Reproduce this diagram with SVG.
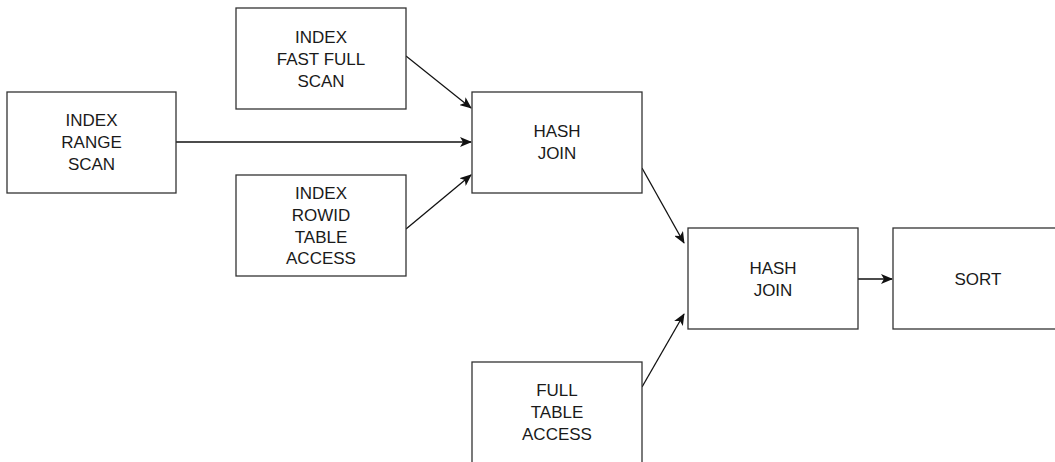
<svg xmlns="http://www.w3.org/2000/svg" width="1055" height="462" viewBox="0 0 1055 462">
  <style>
    .box { fill: #ffffff; stroke: #333333; stroke-width: 1.3; }
    .lbl { font-family: "Liberation Sans", Arial, sans-serif; font-size: 17px; fill: #1a1a1a; text-anchor: middle; }
    .edge { fill: none; stroke: #111111; stroke-width: 1.3; marker-end: url(#arrow); }
  </style>
  <defs>
    <marker id="arrow" viewBox="0 0 12 10" refX="11" refY="5" markerWidth="12" markerHeight="10" markerUnits="userSpaceOnUse" orient="auto">
      <path d="M0,0 L12,5 L0,10 L3,5 Z" fill="#111111"/>
    </marker>
  </defs>
  <rect width="1055" height="462" fill="#ffffff"/>

  <g id="connectors">
    <line class="edge" x1="406" y1="56" x2="471" y2="108"/>
    <line class="edge" x1="176" y1="142" x2="471" y2="142"/>
    <line class="edge" x1="406" y1="229" x2="471" y2="175"/>
    <line class="edge" x1="642" y1="168" x2="684" y2="243"/>
    <line class="edge" x1="642" y1="387" x2="684" y2="314"/>
    <line class="edge" x1="858" y1="279" x2="892" y2="279"/>
  </g>

  <g id="index-range-scan">
    <rect class="box" x="7" y="92" width="169" height="101"/>
    <text class="lbl" x="91.5" y="126">INDEX</text>
    <text class="lbl" x="91.5" y="148">RANGE</text>
    <text class="lbl" x="91.5" y="170">SCAN</text>
  </g>

  <g id="index-fast-full-scan">
    <rect class="box" x="236" y="8" width="170" height="101"/>
    <text class="lbl" x="321" y="43">INDEX</text>
    <text class="lbl" x="321" y="65">FAST FULL</text>
    <text class="lbl" x="321" y="87">SCAN</text>
  </g>

  <g id="index-rowid-table-access">
    <rect class="box" x="236" y="175" width="170" height="101"/>
    <text class="lbl" x="321" y="199">INDEX</text>
    <text class="lbl" x="321" y="221">ROWID</text>
    <text class="lbl" x="321" y="243">TABLE</text>
    <text class="lbl" x="321" y="264">ACCESS</text>
  </g>

  <g id="hash-join-1">
    <rect class="box" x="472" y="92" width="170" height="101"/>
    <text class="lbl" x="557" y="137">HASH</text>
    <text class="lbl" x="557" y="159">JOIN</text>
  </g>

  <g id="hash-join-2">
    <rect class="box" x="688" y="228" width="170" height="101"/>
    <text class="lbl" x="773" y="274">HASH</text>
    <text class="lbl" x="773" y="296">JOIN</text>
  </g>

  <g id="sort">
    <rect class="box" x="893" y="228" width="170" height="101"/>
    <text class="lbl" x="978" y="285">SORT</text>
  </g>

  <g id="full-table-access">
    <rect class="box" x="472" y="362" width="170" height="110"/>
    <text class="lbl" x="557" y="396">FULL</text>
    <text class="lbl" x="557" y="418">TABLE</text>
    <text class="lbl" x="557" y="440">ACCESS</text>
  </g>
</svg>
